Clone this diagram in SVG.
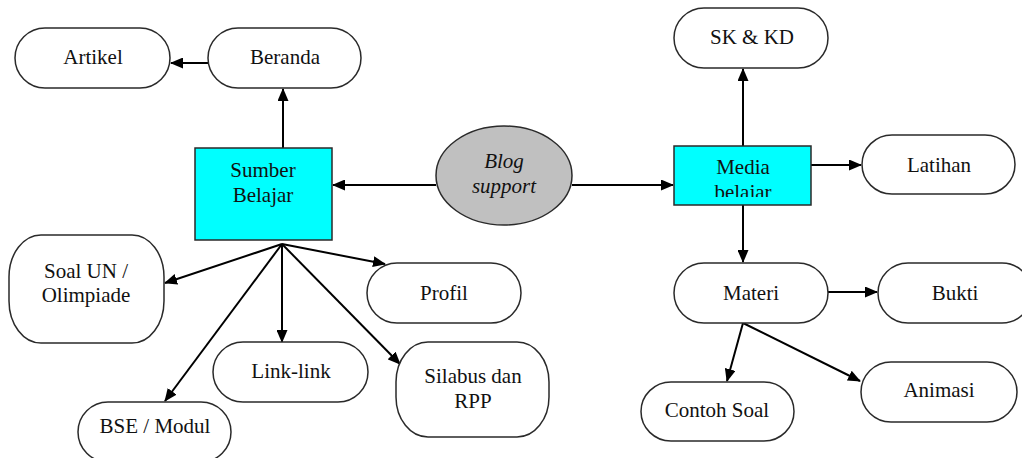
<svg xmlns="http://www.w3.org/2000/svg" width="1022" height="458" viewBox="0 0 1022 458">
  <style>
    .term { fill: #ffffff; stroke: #2a2a2a; stroke-width: 1.5; }
    .proc { fill: #00ffff; stroke: #2a2a2a; stroke-width: 1.5; }
    .hub { fill: #c0c0c0; stroke: #2a2a2a; stroke-width: 1.5; }
    .lbl { font-size: 21px; fill: #111111; text-anchor: middle; }
    .it { font-style: italic; }
    .edge { fill: none; stroke: #000000; stroke-width: 2; marker-end: url(#head); }
  </style>
  <defs>
    <marker id="head" markerUnits="userSpaceOnUse" markerWidth="13" markerHeight="11" refX="12" refY="5.5" orient="auto">
      <path d="M0,0 L13,5.5 L0,11 z" fill="#000000"/>
    </marker>
    <clipPath id="mediaClip">
      <rect x="674" y="146" width="137" height="51"/>
    </clipPath>
  </defs>

  <rect width="1022" height="458" fill="#ffffff"/>

  <!-- connectors -->
  <g id="connectors">
    <line class="edge" x1="208" y1="63" x2="171" y2="63"/>
    <line class="edge" x1="283" y1="148" x2="283" y2="89"/>
    <line class="edge" x1="436" y1="185" x2="333" y2="185"/>
    <line class="edge" x1="572" y1="185" x2="673" y2="185"/>
    <line class="edge" x1="282" y1="244" x2="165" y2="283"/>
    <line class="edge" x1="282" y1="244" x2="165" y2="401"/>
    <line class="edge" x1="282" y1="244" x2="282" y2="342"/>
    <line class="edge" x1="282" y1="244" x2="385" y2="264"/>
    <line class="edge" x1="282" y1="244" x2="400" y2="364"/>
    <line class="edge" x1="743" y1="146" x2="743" y2="69"/>
    <line class="edge" x1="811" y1="165" x2="861" y2="165"/>
    <line class="edge" x1="743" y1="205" x2="743" y2="262"/>
    <line class="edge" x1="828" y1="292" x2="877" y2="292"/>
    <line class="edge" x1="743" y1="323" x2="727" y2="381"/>
    <line class="edge" x1="743" y1="323" x2="860" y2="381"/>
  </g>

  <!-- Sumber Belajar branch -->
  <g id="artikel">
    <rect class="term" x="15" y="28" width="155" height="60" rx="30" ry="30"/>
    <text class="lbl" x="93" y="64" style="font-family:'Liberation Serif'">Artikel</text>
  </g>
  <g id="beranda">
    <rect class="term" x="208" y="28" width="153" height="60" rx="30" ry="30"/>
    <text class="lbl" x="285" y="64" style="font-family:'Times New Roman'">Beranda</text>
  </g>
  <g id="sumber-belajar">
    <rect class="proc" x="195" y="148" width="137" height="92"/>
    <text class="lbl" x="263" y="177" style="font-family:'Times New Roman'">Sumber</text>
    <text class="lbl" x="263" y="202" style="font-family:'Times New Roman'">Belajar</text>
  </g>
  <g id="soal-un">
    <rect class="term" x="9" y="235" width="155" height="108" rx="32" ry="42"/>
    <text class="lbl" x="86" y="278" style="font-family:Tinos">Soal UN /</text>
    <text class="lbl" x="86" y="302" style="font-family:Tinos">Olimpiade</text>
  </g>
  <g id="profil">
    <rect class="term" x="367" y="263" width="154" height="60" rx="30" ry="30"/>
    <text class="lbl" x="444" y="300" style="font-family:serif">Profil</text>
  </g>
  <g id="link-link">
    <rect class="term" x="213" y="342" width="155" height="60" rx="30" ry="30"/>
    <text class="lbl" x="291" y="378" style="font-family:serif">Link-link</text>
  </g>
  <g id="silabus">
    <rect class="term" x="396" y="342" width="153" height="95" rx="32" ry="40"/>
    <text class="lbl" x="473" y="383" style="font-family:'Liberation Serif', serif">Silabus dan</text>
    <text class="lbl" x="473" y="408" style="font-family:'Liberation Serif', serif">RPP</text>
  </g>
  <g id="bse-modul">
    <rect class="term" x="78" y="402" width="153" height="60" rx="30" ry="30"/>
    <text class="lbl" x="155" y="433" style="font-family:'Liberation Serif', serif">BSE / Modul</text>
  </g>

  <!-- centre hub -->
  <g id="blog-support">
    <ellipse class="hub" cx="504" cy="175.5" rx="68" ry="49.5"/>
    <text class="lbl it" x="504" y="168" style="font-family:'Liberation Serif'">Blog</text>
    <text class="lbl it" x="504" y="193" style="font-family:'Liberation Serif'">support</text>
  </g>

  <!-- Media belajar branch -->
  <g id="media-belajar">
    <rect class="proc" x="674" y="146" width="137" height="59"/>
    <g clip-path="url(#mediaClip)">
      <text class="lbl" x="743" y="174" font-family="Liberation Serif">Media</text>
      <text class="lbl" x="743" y="199" font-family="Liberation Serif">belajar</text>
    </g>
  </g>
  <g id="sk-kd">
    <rect class="term" x="674" y="8" width="154" height="60" rx="30" ry="30"/>
    <text class="lbl" x="752" y="44" style="font-family:'Liberation Serif', 'Noto Sans CJK SC', serif">SK &amp; KD</text>
  </g>
  <g id="latihan">
    <rect class="term" x="862" y="135" width="153" height="59" rx="30" ry="30"/>
    <text class="lbl" x="939" y="172" style="font-family:'Liberation Serif', 'Noto Sans CJK SC', serif">Latihan</text>
  </g>
  <g id="materi">
    <rect class="term" x="674" y="263" width="154" height="60" rx="30" ry="30"/>
    <text class="lbl" x="751" y="300" style="font-family:'Liberation Serif', 'Noto Sans CJK SC', serif">Materi</text>
  </g>
  <g id="bukti">
    <rect class="term" x="878" y="263" width="154" height="60" rx="30" ry="30"/>
    <text class="lbl" x="955" y="300" style="font-family:'Liberation Serif', 'Noto Sans CJK SC', serif">Bukti</text>
  </g>
  <g id="contoh-soal">
    <rect class="term" x="641" y="382" width="153" height="59" rx="30" ry="30"/>
    <text class="lbl" x="717" y="417" style="font-family:'Liberation Serif', 'Noto Sans CJK SC', serif">Contoh Soal</text>
  </g>
  <g id="animasi">
    <rect class="term" x="861" y="362" width="156" height="60" rx="30" ry="30"/>
    <text class="lbl" x="939" y="397" style="font-family:'Liberation Serif', 'Noto Sans CJK SC', serif">Animasi</text>
  </g>
</svg>
